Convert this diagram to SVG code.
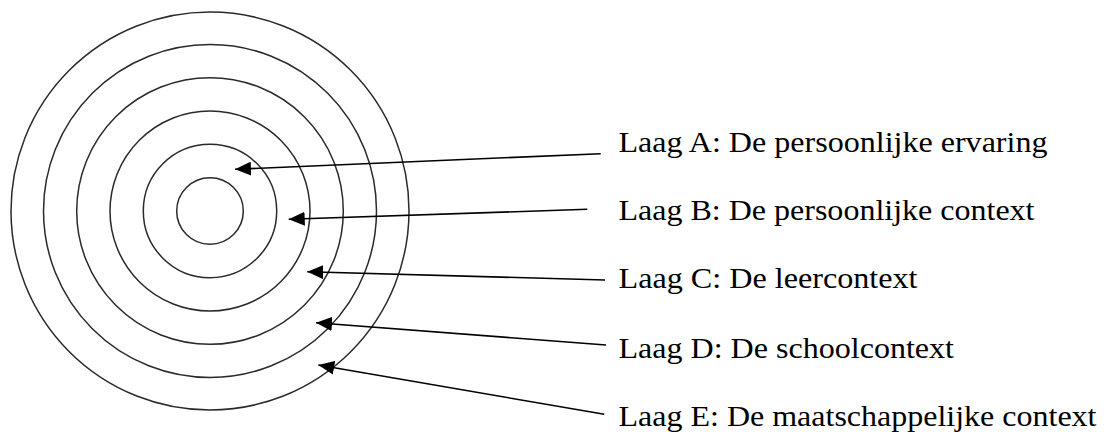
<svg xmlns="http://www.w3.org/2000/svg" width="1109" height="432" viewBox="0 0 1109 432">
<style>
.ring{fill:none;stroke:#2a2a2a;stroke-width:1.5}
.arrow{fill:none;stroke:#000;stroke-width:1.6;marker-end:url(#ah)}
.lbl{font-family:'Liberation Serif','Noto Serif','DejaVu Serif',Times,serif;font-size:29.5px;fill:#000}
</style>
<defs>
<marker id="ah" viewBox="0 0 16 14" refX="16" refY="7" markerWidth="16" markerHeight="14" markerUnits="userSpaceOnUse" orient="auto">
<path d="M0,0 L16,7 L0,14 z" fill="#000"/>
</marker>
</defs>
<g id="rings">
<circle class="ring" cx="210" cy="211" r="199"/>
<circle class="ring" cx="210" cy="211" r="166.5"/>
<circle class="ring" cx="210" cy="211" r="133.3"/>
<circle class="ring" cx="210" cy="211" r="100"/>
<circle class="ring" cx="210" cy="211" r="66.7"/>
<circle class="ring" cx="210" cy="211" r="33.3"/>
</g>
<g id="connectors">
<line class="arrow" x1="600.7" y1="153.7" x2="235" y2="169.3"/>
<line class="arrow" x1="587.3" y1="209.3" x2="288.7" y2="219.3"/>
<line class="arrow" x1="605" y1="280" x2="307.3" y2="271.7"/>
<line class="arrow" x1="606" y1="345" x2="316" y2="322.7"/>
<line class="arrow" x1="604.3" y1="414.3" x2="318.3" y2="365"/>
</g>
<g id="labelA"><text class="lbl" x="618.5" y="151.7" textLength="429" lengthAdjust="spacingAndGlyphs">Laag A: De persoonlijke ervaring</text></g>
<g id="labelB"><text class="lbl" x="618.5" y="220" textLength="416" lengthAdjust="spacingAndGlyphs">Laag B: De persoonlijke context</text></g>
<g id="labelC"><text class="lbl" x="618.5" y="287.7" textLength="299" lengthAdjust="spacingAndGlyphs">Laag C: De leercontext</text></g>
<g id="labelD"><text class="lbl" x="618.5" y="357.7" textLength="335.5" lengthAdjust="spacingAndGlyphs">Laag D: De schoolcontext</text></g>
<g id="labelE"><text class="lbl" x="618.5" y="426" textLength="478" lengthAdjust="spacingAndGlyphs">Laag E: De maatschappelijke context</text></g>
</svg>
